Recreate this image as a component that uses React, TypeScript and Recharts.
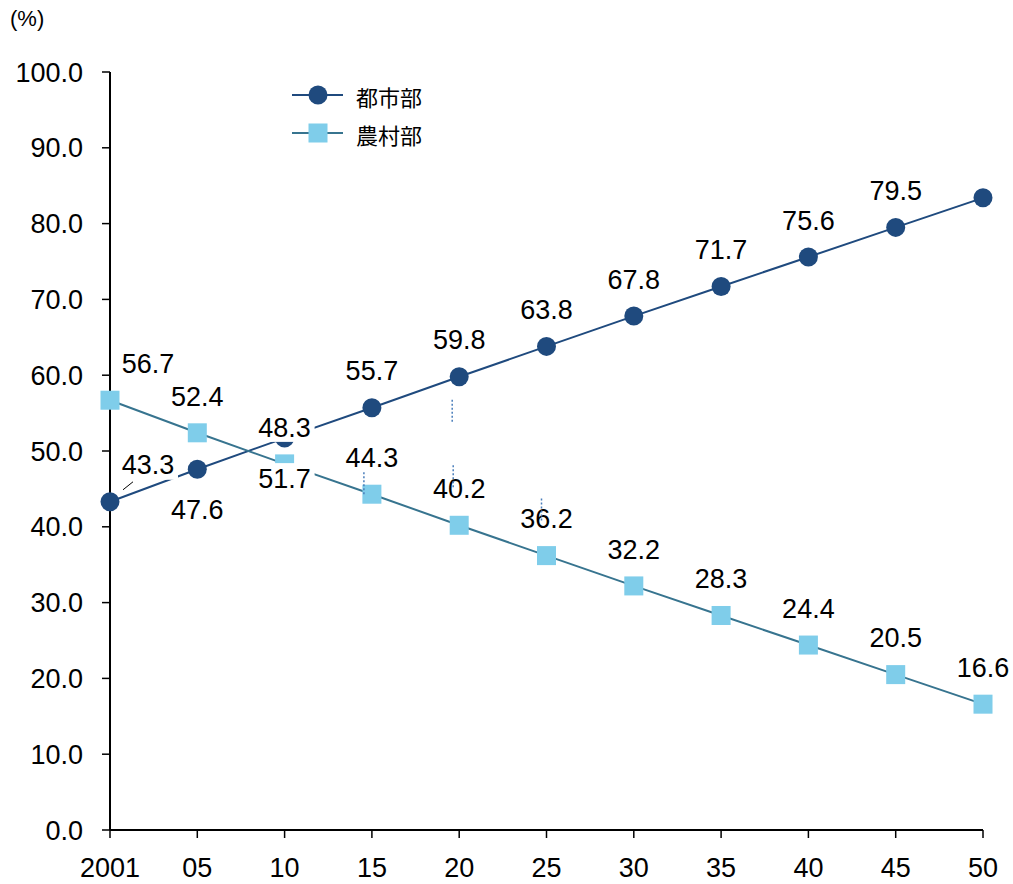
import React from 'react';
import { LineChart, Line, XAxis, YAxis, LabelList, Label } from 'recharts';

// 都市部 / 農村部 population share (%), 2001-2050
const years = ['2001', '05', '10', '15', '20', '25', '30', '35', '40', '45', '50'];
const urban = [43.3, 47.6, 51.7, 55.7, 59.8, 63.8, 67.8, 71.7, 75.6, 79.5, 83.4];
const rural = [56.7, 52.4, 48.3, 44.3, 40.2, 36.2, 32.2, 28.3, 24.4, 20.5, 16.6];
const yTicks = [0, 10, 20, 30, 40, 50, 60, 70, 80, 90, 100];

const URBAN = '#1F4A7E';
const RURAL_LINE = '#37748F';
const RURAL_DOT = '#7FCDEA';
const FONT = '"Liberation Sans", Arial, sans-serif';
const CJK = '"Noto Sans CJK JP", "Noto Sans", sans-serif';

// where each data label sits relative to its point
const urbanPlace = ['right', 'below', 'below', 'above', 'above', 'above', 'above', 'above', 'above', 'above', null];
const ruralPlace = ['right', 'above', 'above', 'above', 'above', 'above', 'above', 'above', 'above', 'above', 'above'];

const data = years.map((year, i) => ({ year, urban: urban[i], rural: rural[i] }));

type Leader = { dx: number; y1: number; y2: number; dotted?: boolean; dx2?: number };
// leftover label leader lines (relative to the point)
const urbanLeaders: Record<number, Leader> = {
  0: { dx: 13, dx2: 23, y1: -12, y2: -20 },
  4: { dx: -7, y1: 23, y2: 46, dotted: true },
};
const ruralLeaders: Record<number, Leader> = {
  3: { dx: -8, y1: -22, y2: 1, dotted: true },
  4: { dx: -6, y1: -60, y2: -37, dotted: true },
  5: { dx: -5, y1: -57, y2: -33, dotted: true },
};

function makeLabel(place: (string | null)[], leaders: Record<number, Leader>) {
  return (props: any) => {
    const { x, y, value, index } = props;
    const p = place[index];
    if (!p || x == null || y == null) return null;
    let cx = x;
    let cy = y - 37;
    if (p === 'right') cx = x + 38;
    if (p === 'below') cy = y + 40;
    const ld = leaders[index];
    return (
      <g key={`lbl-${index}`}>
        <rect x={cx - 30} y={cy - 15} width={60} height={30} fill="#fff" />
        <text x={cx} y={cy + 9.7} textAnchor="middle" fontSize={27} fontFamily={FONT} fill="#000">
          {Number(value).toFixed(1)}
        </text>
        {ld && (
          <line
            x1={x + ld.dx}
            x2={x + (ld.dx2 ?? ld.dx)}
            y1={y + ld.y1}
            y2={y + ld.y2}
            stroke={ld.dotted ? '#4A7EBB' : '#000'}
            strokeWidth={ld.dotted ? 1.5 : 1}
            strokeDasharray={ld.dotted ? '2 2' : undefined}
          />
        )}
      </g>
    );
  };
}

const renderSquare = (props: any) => {
  const { cx, cy, index } = props;
  return <rect key={`sq-${index}`} x={cx - 9.5} y={cy - 9.5} width={19} height={19} fill={RURAL_DOT} />;
};

function LegendBox() {
  return (
    <svg width={170} height={80} style={{ position: 'absolute', left: 290, top: 76 }}>
      <line x1={2} x2={53} y1={19} y2={19} stroke={URBAN} strokeWidth={2} />
      <circle cx={28} cy={19} r={9.5} fill={URBAN} />
      <text x={66} y={20} dominantBaseline="central" fontSize={22} fontFamily={CJK} fill="#000">都市部</text>
      <line x1={2} x2={53} y1={57} y2={57} stroke={RURAL_LINE} strokeWidth={2} />
      <rect x={18.5} y={47.5} width={19} height={19} fill={RURAL_DOT} />
      <text x={66} y={58} dominantBaseline="central" fontSize={22} fontFamily={CJK} fill="#000">農村部</text>
    </svg>
  );
}

export default function App() {
  return (
    <div style={{ position: 'absolute', left: 0, top: 0, width: 1013, height: 884, background: '#fff' }}>
      <LineChart width={1013} height={884} data={data} margin={{ top: 72, right: 30, left: 10, bottom: 0 }}>
        <XAxis
          dataKey="year"
          height={54}
          axisLine={{ stroke: '#000', strokeWidth: 2 }}
          tickLine={{ stroke: '#000', strokeWidth: 1.5 }}
          tickSize={8}
          tickMargin={20}
          tick={{ fill: '#000', fontSize: 27, fontFamily: FONT }}
          interval={0}
        />
        <YAxis
          width={100}
          domain={[0, 100]}
          ticks={yTicks}
          interval={0}
          tickFormatter={(v: number) => v.toFixed(1)}
          axisLine={{ stroke: '#000', strokeWidth: 2 }}
          tickLine={{ stroke: '#000', strokeWidth: 1.5 }}
          tickSize={8}
          tickMargin={19}
          tick={{ fill: '#000', fontSize: 27, fontFamily: FONT }}
        >
          <Label
            content={() => (
              <text x={10} y={26} fontSize={22} fontFamily={FONT} fill="#000">(%)</text>
            )}
          />
        </YAxis>
        <Line
          dataKey="urban"
          stroke={URBAN}
          strokeWidth={2}
          dot={{ r: 9.5, fill: URBAN, stroke: URBAN, strokeWidth: 0 }}
          activeDot={false}
          isAnimationActive={false}
        />
        <Line
          dataKey="rural"
          stroke={RURAL_LINE}
          strokeWidth={2}
          dot={renderSquare}
          activeDot={false}
          isAnimationActive={false}
        />
        {/* label-only series so the labels sit on top of both lines */}
        <Line dataKey="urban" stroke="none" dot={false} activeDot={false} isAnimationActive={false} legendType="none">
          <LabelList dataKey="urban" content={makeLabel(urbanPlace, urbanLeaders)} />
        </Line>
        <Line dataKey="rural" stroke="none" dot={false} activeDot={false} isAnimationActive={false} legendType="none">
          <LabelList dataKey="rural" content={makeLabel(ruralPlace, ruralLeaders)} />
        </Line>
      </LineChart>
      <LegendBox />
    </div>
  );
}
